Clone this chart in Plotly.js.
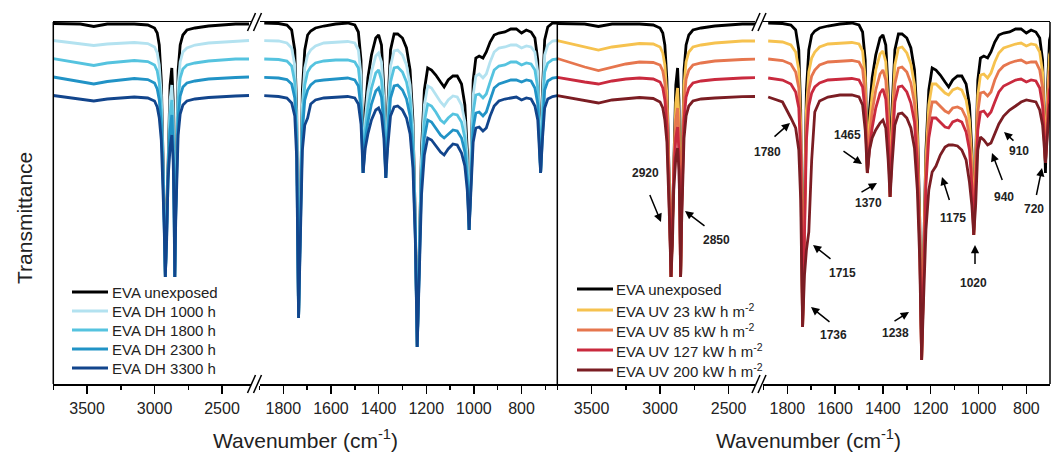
<!DOCTYPE html>
<html>
<head>
<meta charset="utf-8">
<script src="https://cdn.plot.ly/plotly-3.0.1.min.js"></script>
<style>
html,body{margin:0;padding:0;background:#fff;}
#chart{width:1051px;height:452px;}
</style>
</head>
<body>
<div id="chart"></div>
<script>
// ---------------- DATA (transmittance, arbitrary units) ----------------
// High-wavenumber segment (cm-1)
const wavenumberHigh = [3750, 3650, 3550, 3450, 3350, 3250, 3150, 3050, 3000, 2980, 2965, 2950, 2940, 2930, 2920, 2910, 2900, 2885, 2872, 2862, 2855, 2850, 2843, 2835, 2825, 2810, 2790, 2760, 2700, 2600, 2500, 2400, 2300];
// Low-wavenumber segment (cm-1)
const wavenumberLow = [1880, 1820, 1785, 1765, 1752, 1744, 1736, 1728, 1720, 1710, 1698, 1685, 1665, 1630, 1580, 1530, 1500, 1485, 1474, 1465, 1456, 1445, 1430, 1412, 1400, 1388, 1378, 1370, 1362, 1350, 1335, 1320, 1300, 1283, 1268, 1256, 1246, 1238, 1230, 1220, 1208, 1194, 1178, 1160, 1140, 1125, 1108, 1088, 1070, 1052, 1038, 1028, 1020, 1012, 1003, 992, 978, 962, 948, 932, 915, 895, 870, 845, 822, 800, 780, 760, 744, 732, 720, 712, 703, 690, 670, 650];

const unexposedHigh = [360.5, 360, 360, 357.5, 360, 360, 360, 359, 356, 351, 339, 304, 254, 184, 107, 164, 244, 299, 316, 284, 204, 107, 184, 264, 314, 339, 349, 354, 356, 358, 359, 360, 360];
const unexposedLow = [361, 360.5, 359, 354, 334, 274, 66, 204, 294, 334, 349, 353, 356, 358, 360, 361, 359, 352, 324, 211, 274, 306, 329, 346, 349, 339, 294, 206, 274, 334, 350, 350, 346, 336, 314, 264, 164, 37, 124, 234, 294, 316, 314, 309, 302, 297, 304, 308, 308, 300, 279, 234, 154, 234, 304, 326, 328, 326, 332, 342, 349, 351, 352, 355, 355, 351, 354, 352, 346, 324, 211, 294, 344, 357, 361, 361];

const dh1000High = [343.5, 342, 340.5, 338.5, 340, 341, 341.5, 340.5, 337, 331, 319, 289, 244, 179, 107, 159, 234, 284, 299, 269, 194, 107, 179, 249, 299, 322, 332, 336, 339, 341, 342, 343, 343.5];
const dh1000Low = [343.3, 343, 341, 336, 319, 264, 66, 194, 279, 316, 329, 334, 338, 341, 342, 342.5, 341, 334, 309, 211, 264, 292, 312, 328, 331, 322, 284, 206, 266, 318, 333, 334, 329, 319, 299, 254, 159, 37, 119, 224, 279, 298, 296, 289, 282, 278, 284, 288, 287, 279, 262, 224, 154, 224, 289, 308, 310, 306, 310, 322, 332, 336, 337, 339, 339, 336, 338, 337, 332, 312, 211, 284, 329, 339, 343, 343.5];

const dh1800High = [325.3, 323, 321, 318.5, 321, 322.5, 323.5, 322.5, 319, 313, 301, 274, 234, 174, 107, 154, 224, 269, 284, 254, 189, 107, 174, 239, 284, 306, 315, 319, 321, 323, 324, 325, 325];
const dh1800Low = [325, 324.5, 323, 318, 302, 252, 66, 184, 266, 299, 312, 317, 321, 323, 324, 324, 322, 316, 292, 211, 254, 276, 296, 311, 314, 304, 272, 206, 256, 302, 316, 317, 312, 302, 284, 242, 154, 37, 114, 214, 262, 280, 278, 272, 264, 261, 266, 270, 269, 262, 246, 214, 154, 214, 272, 289, 290, 286, 290, 302, 314, 318, 319, 322, 322, 319, 321, 320, 314, 296, 211, 272, 312, 321, 324.5, 325];

const dh2300High = [307, 304.5, 302.5, 300, 302.5, 304, 305.5, 304.5, 301, 295, 284, 259, 224, 169, 107, 149, 214, 254, 269, 239, 184, 107, 169, 224, 266, 288, 297, 301, 303, 305, 306, 306.5, 307];
const dh2300Low = [306.7, 306, 304.5, 300, 286, 239, 66, 174, 252, 284, 294, 299, 303, 304, 305, 306, 304, 298, 276, 211, 244, 262, 280, 293, 296, 287, 259, 206, 246, 286, 298, 299, 294, 285, 268, 229, 149, 37, 109, 204, 246, 264, 262, 256, 249, 246, 250, 254, 253, 246, 232, 204, 154, 204, 256, 271, 272, 268, 272, 284, 296, 300, 302, 304, 304, 302, 304, 303, 296, 280, 211, 259, 294, 303, 306, 306.7];

const dh3300High = [288.5, 286.5, 285, 283, 285, 286, 287, 286, 283, 277, 266, 244, 212, 164, 107, 144, 204, 236, 249, 224, 174, 107, 162, 214, 249, 270, 279, 283, 285, 286.5, 287.5, 288, 288.5];
const dh3300Low = [288.3, 287.5, 286, 281, 268, 226, 66, 164, 234, 259, 266, 280, 284, 286, 287, 287.5, 286, 280, 260, 211, 236, 250, 264, 274, 276, 269, 246, 206, 236, 268, 277, 278, 274, 266, 250, 216, 144, 37, 104, 189, 229, 246, 244, 238, 232, 229, 235, 240, 239, 231, 218, 194, 154, 196, 242, 256, 257, 253, 256, 268, 278, 283, 285, 286, 287, 284, 286, 285, 278, 264, 211, 246, 276, 285, 287.5, 288.3];

const uv23High = [343.3, 340, 337, 334, 337, 339, 340.5, 340, 337, 331, 319, 289, 244, 179, 107, 156, 229, 281, 296, 266, 194, 107, 179, 249, 299, 322, 332, 337, 339, 341, 342, 343, 343];
const uv23Low = [343, 342, 339, 332, 314, 259, 57, 184, 274, 312, 326, 332, 337, 340, 341, 341.5, 340, 333, 306, 211, 262, 289, 314, 330, 333, 322, 279, 187, 259, 319, 336, 337, 331, 320, 299, 249, 154, 24, 114, 224, 279, 300, 300, 296, 291, 289, 294, 296, 294, 284, 264, 224, 149, 224, 289, 309, 310, 306, 311, 322, 331, 336, 338, 340, 341, 338, 340, 339, 332, 312, 221, 284, 329, 339, 342.5, 343];

const uv85High = [325.5, 321, 317, 313.5, 317, 320, 322, 321.5, 319, 313, 301, 274, 234, 174, 107, 152, 219, 264, 276, 249, 186, 107, 174, 236, 282, 305, 314, 319, 321, 323, 324, 324.5, 325];
const uv85Low = [325, 323.5, 320, 312, 296, 244, 57, 174, 259, 294, 308, 314, 319, 322, 323, 323.5, 322, 315, 289, 211, 249, 272, 294, 310, 314, 304, 266, 187, 246, 300, 316, 317, 312, 301, 281, 234, 146, 24, 109, 212, 262, 282, 282, 278, 273, 271, 276, 277, 275, 266, 248, 212, 149, 212, 272, 291, 292, 288, 292, 304, 313, 318, 321, 323, 324, 321, 322, 322, 314, 296, 221, 272, 312, 321, 324.5, 325];

const uv127High = [306.7, 304, 302, 300, 303, 305, 306, 305, 302, 296, 284, 259, 222, 166, 107, 148, 209, 246, 257, 232, 179, 107, 168, 222, 264, 287, 296, 301, 303, 304.5, 305.5, 306, 306.3];
const uv127Low = [306, 304, 300, 292, 276, 229, 57, 164, 244, 278, 291, 297, 301, 304, 305, 305.5, 304, 297, 272, 211, 236, 256, 276, 291, 295, 285, 249, 187, 234, 282, 297, 298, 292, 281, 262, 219, 139, 24, 102, 199, 246, 266, 266, 262, 257, 256, 262, 264, 262, 252, 234, 199, 149, 199, 254, 272, 273, 268, 272, 282, 292, 298, 301, 304, 305, 302, 304, 303, 296, 278, 221, 259, 294, 303, 306, 306.5];

const uv200High = [288.3, 286, 284, 281, 284, 285.5, 286.5, 285.5, 282, 276, 264, 242, 209, 159, 107, 139, 194, 226, 236, 214, 169, 107, 159, 209, 246, 268, 278, 283, 285, 286, 287, 287.3, 287.5];
const uv200Low = [287, 282, 266, 256, 234, 184, 57, 109, 134, 152, 224, 272, 283, 287, 289, 289, 287, 279, 254, 211, 234, 246, 254, 261, 264, 256, 224, 187, 219, 259, 270, 271, 266, 256, 236, 194, 124, 24, 84, 154, 194, 212, 218, 229, 237, 239, 239, 238, 234, 224, 202, 179, 149, 179, 234, 247, 244, 239, 241, 251, 260, 268, 274, 278, 282, 284, 283, 282, 274, 259, 221, 249, 279, 286, 288, 288.3];

const dhNames = ['EVA unexposed', 'EVA DH 1000 h', 'EVA DH 1800 h', 'EVA DH 2300 h', 'EVA DH 3300 h'];
const uvNames = ['EVA unexposed', 'EVA UV 23 kW h m<sup>-2</sup>', 'EVA UV 85 kW h m<sup>-2</sup>', 'EVA UV 127 kW h m<sup>-2</sup>', 'EVA UV 200 kW h m<sup>-2</sup>'];
const dhColors = ['#000000', '#b3e2f0', '#55c3df', '#2193c6', '#12458c'];
const uvColors = ['#000000', '#f6c24f', '#e6764e', '#c92a3e', '#7b1d23'];

const peakLabels = ['2920', '2850', '1780', '1465', '1370', '1715', '1736', '1238', '1175', '1020', '940', '910', '720'];

// ---------------- BUILD ----------------
const W = 1051, H = 452;
const px = v => v / W;
const py = v => 1 - v / H;
const TOP = 22, BOTTOM = 384;

const dhHigh = [unexposedHigh, dh1000High, dh1800High, dh2300High, dh3300High];
const dhLow = [unexposedLow, dh1000Low, dh1800Low, dh2300Low, dh3300Low];
const uvHigh = [unexposedHigh, uv23High, uv85High, uv127High, uv200High];
const uvLow = [unexposedLow, uv23Low, uv85Low, uv127Low, uv200Low];

const traces = [];
function addPanel(names, colors, highs, lows, xa, xb) {
  for (let i = 0; i < names.length; i++) {
    const line = {color: colors[i], width: 2.8};
    traces.push({x: wavenumberHigh, y: highs[i], xaxis: xa, yaxis: 'y', type: 'scatter', mode: 'lines',
      name: names[i], line, showlegend: false, hoverinfo: 'skip'});
    traces.push({x: wavenumberLow, y: lows[i], xaxis: xb, yaxis: 'y', type: 'scatter', mode: 'lines',
      name: names[i], line, showlegend: false, hoverinfo: 'skip'});
  }
}
addPanel(dhNames, dhColors, dhHigh, dhLow, 'x', 'x2');
addPanel(uvNames, uvColors, uvHigh, uvLow, 'x3', 'x4');

function axisCfg(d0, d1, range, tick0, dtick, minorDtick) {
  return {
    domain: [px(d0), px(d1)], range: range, anchor: 'y',
    tickmode: 'linear', tick0: tick0, dtick: dtick,
    ticks: 'outside', ticklen: 8, tickwidth: 1.5, tickcolor: '#000',
    showline: true, linecolor: '#000', linewidth: 1.5, mirror: true,
    showgrid: false, zeroline: false, fixedrange: true,
    tickfont: {size: 16, color: '#222'}, ticklabelstandoff: 1,
    minor: {tick0: tick0, dtick: minorDtick, ticks: 'outside', ticklen: 4, tickwidth: 1.5, tickcolor: '#000', showgrid: false}
  };
}

const shapes = [];
// frame verticals
[53.3, 557.3, 1050].forEach(x => shapes.push({type: 'line', xref: 'paper', yref: 'paper',
  x0: px(x), x1: px(x), y0: py(TOP), y1: py(BOTTOM), line: {color: '#000', width: 1.5}}));
// axis-break marks
[254.5, 759].forEach(cx => {
  [TOP, BOTTOM].forEach(cy => {
    [-4, 2].forEach(off => shapes.push({type: 'line', xref: 'paper', yref: 'paper',
      x0: px(cx + off - 3), y0: py(cy + 9), x1: px(cx + off + 5), y1: py(cy - 9),
      line: {color: '#000', width: 1.5}}));
  });
});

const annotations = [];

// legend keys (line samples + labels)
function addLegend(names, colors, lineX0, lineX1, textX, rows) {
  names.forEach((n, i) => {
    shapes.push({type: 'line', xref: 'paper', yref: 'paper', x0: px(lineX0), x1: px(lineX1),
      y0: py(rows[i]), y1: py(rows[i]), line: {color: colors[i], width: 3}});
    annotations.push({xref: 'paper', yref: 'paper', x: px(textX), y: py(rows[i]), text: n,
      showarrow: false, xanchor: 'left', yanchor: 'middle', font: {size: 15, color: '#222'}});
  });
}
addLegend(dhNames, dhColors, 72, 108, 110, [292, 311, 330, 349, 368]);
addLegend(uvNames, uvColors, 577, 613, 614, [289, 310, 330, 350, 370]);

// peak labels and arrows: [textX, textY, tailX, tailY, tipX, tipY] in pixels
const labelPos = [
  [645, 173, 649, 193, 661, 222],
  [716, 240, 706, 227, 685, 211],
  [767, 152, 773, 138, 790, 123],
  [847, 135, 842, 150, 862, 164],
  [868, 203, 860, 193, 877, 183],
  [842, 273, 832, 260, 813, 245],
  [833, 335, 831, 323, 811, 307],
  [895, 333, 893, 322, 909, 312],
  [953, 218, 950, 202, 942, 177],
  [973, 283, 975, 266, 975, 245],
  [1004, 197, 1003, 182, 992, 153],
  [1019, 151, 1015, 142, 1004, 132],
  [1034, 209, 1036, 197, 1042, 168]
];
peakLabels.forEach((t, i) => {
  const p = labelPos[i];
  annotations.push({xref: 'paper', yref: 'paper', x: px(p[0]), y: py(p[1]), text: '<b>' + t + '</b>',
    showarrow: false, xanchor: 'center', yanchor: 'middle', font: {size: 12, color: '#222'}});
  annotations.push({xref: 'paper', yref: 'paper', x: px(p[4]), y: py(p[5]), text: ' ',
    showarrow: true, ax: p[2] - p[4], ay: p[3] - p[5], axref: 'pixel', ayref: 'pixel',
    arrowhead: 2, arrowsize: 1.1, arrowwidth: 1.5, arrowcolor: '#000', font: {size: 1}});
});

annotations.push({xref: 'paper', yref: 'paper', x: px(305), y: py(439), text: 'Wavenumber (cm<sup>-1</sup>)',
  showarrow: false, font: {size: 21, color: '#222'}, xanchor: 'center', yanchor: 'middle'});
annotations.push({xref: 'paper', yref: 'paper', x: px(808), y: py(439), text: 'Wavenumber (cm<sup>-1</sup>)',
  showarrow: false, font: {size: 21, color: '#222'}, xanchor: 'center', yanchor: 'middle'});
annotations.push({xref: 'paper', yref: 'paper', x: px(24), y: py(218), text: 'Transmittance', textangle: -90,
  showarrow: false, font: {size: 21, color: '#222'}, xanchor: 'center', yanchor: 'middle'});

const layout = {
  width: W, height: H,
  margin: {l: 0, r: 0, t: 0, b: 0, pad: 0},
  paper_bgcolor: '#fff', plot_bgcolor: 'rgba(0,0,0,0)',
  font: {family: '"Liberation Sans", Arial, sans-serif', color: '#222', size: 16},
  showlegend: false,
  xaxis: axisCfg(53.3, 250.5, [3750, 2289], 3500, 500, 250),
  xaxis2: axisCfg(259.5, 557.3, [1900, 650], 1800, 200, 100),
  xaxis3: axisCfg(557.3, 755, [3750, 2307], 3500, 500, 250),
  xaxis4: axisCfg(763.4, 1050, [1900, 701], 1800, 200, 100),
  yaxis: {domain: [py(BOTTOM), py(TOP)], range: [0, 362], visible: false, fixedrange: true},
  shapes: shapes,
  annotations: annotations
};

Plotly.newPlot('chart', traces, layout, {staticPlot: true, displayModeBar: false}).then(gd => {
  // drop empty placeholder text nodes left by the library
  gd.querySelectorAll('text').forEach(t => { if (!t.textContent.trim()) t.remove(); });
});
</script>
</body>
</html>
